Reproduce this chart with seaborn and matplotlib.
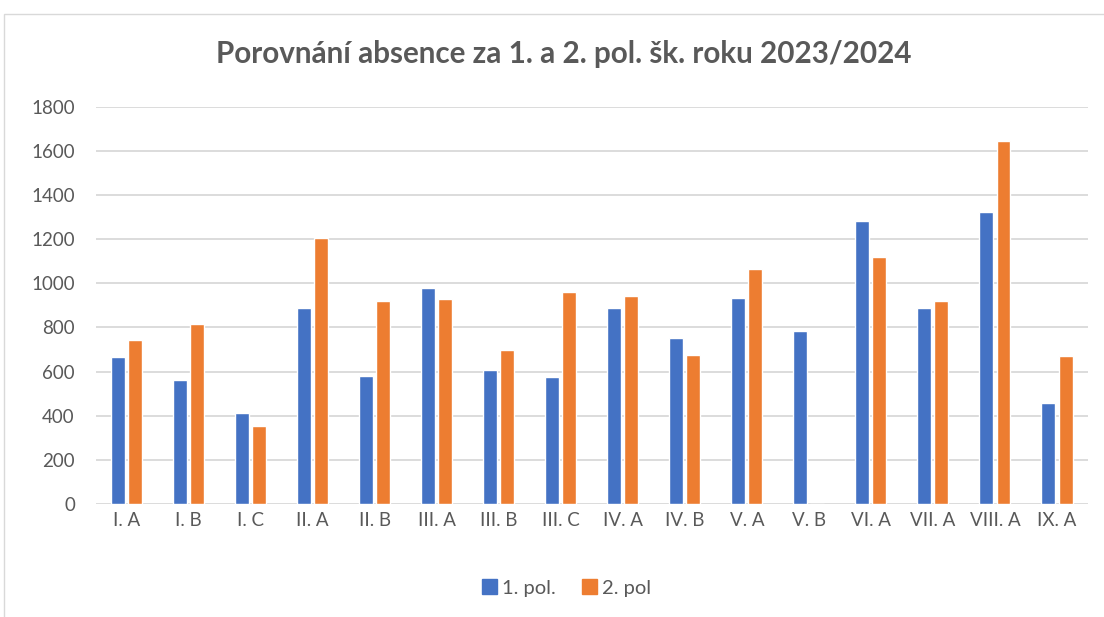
import pandas as pd
import matplotlib.pyplot as plt
import seaborn as sns
from matplotlib.patches import Rectangle, Patch

# data
tridy = ["I. A", "I. B", "I. C", "II. A", "II. B", "III. A", "III. B", "III. C",
         "IV. A", "IV. B", "V. A", "V. B", "VI. A", "VII. A", "VIII. A", "IX. A"]
pol1 = [664, 562, 411, 888, 578, 980, 607, 574, 886, 751, 932, 782, 1284, 889, 1324, 458]
pol2 = [743, 815, 353, 1205, 921, 927, 698, 959, 942, 675, 1065, 0, 1119, 921, 1644, 669]

df = pd.DataFrame({"trida": tridy * 2,
                   "absence": pol1 + pol2,
                   "pololeti": ["1. pol."] * len(tridy) + ["2. pol"] * len(tridy)})

sns.set_theme(style="white")
plt.rcParams["font.family"] = ["Lato", "DejaVu Sans"]

barvy = {"1. pol.": "#4472C4", "2. pol": "#ED7D31"}
seda = "#595959"

fig = plt.figure(figsize=(11.04, 6.17), dpi=100)
ax = fig.add_axes([0.0867, 0.1831, 0.8988, 0.6439])

sns.barplot(data=df, x="trida", y="absence", hue="pololeti", palette=barvy,
            width=0.55, gap=0.18, saturation=1, ax=ax, legend=False)

ax.set_ylim(0, 1800)
ax.set_yticks(range(0, 1801, 200))
ax.set_xlim(-0.5, len(tridy) - 0.5)
ax.grid(axis="y", color="#D9D9D9", linewidth=1.3)
ax.set_axisbelow(True)
for s in ax.spines.values():
    s.set_visible(False)
ax.tick_params(axis="both", length=0, labelsize=13.5, colors=seda)
ax.tick_params(axis="y", pad=15)
ax.tick_params(axis="x", pad=6)
ax.set_xlabel("")
ax.set_ylabel("")

fig.text(0.511, 0.912, "Porovnání absence za 1. a 2. pol. šk. roku 2023/2024",
         ha="center", va="center", fontsize=21.3, fontweight="bold", color=seda)

handles = [Patch(color=barvy[k], label=k) for k in barvy]
fig.legend(handles=handles, loc="center", bbox_to_anchor=(0.513, 0.047), ncol=2,
           frameon=False, fontsize=14.5, handlelength=0.75, handleheight=0.75,
           handletextpad=0.25, columnspacing=1.3, labelcolor=seda)

# chart border
fig.patches.append(Rectangle((4 / 1104, -0.1), 1.2, 1 - 14 / 617 + 0.1,
                             transform=fig.transFigure, fill=False,
                             edgecolor="#D9D9D9", linewidth=1))

plt.savefig("out.png", dpi=100)
